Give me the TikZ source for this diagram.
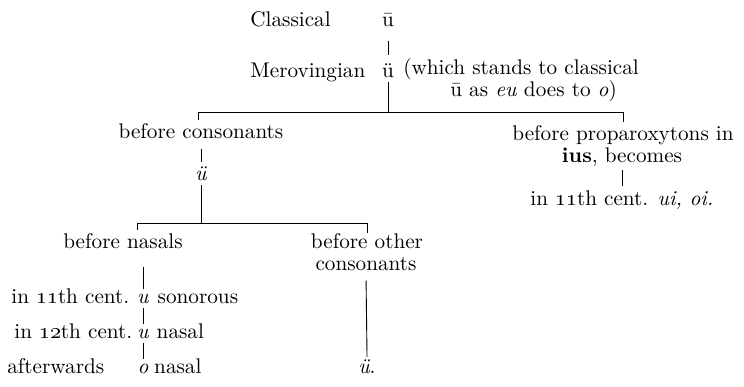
\documentclass[tikz,border=0pt]{standalone}
\usetikzlibrary{positioning,calc}
\tikzset{
  txt/.style={inner xsep=0pt, inner ysep=2pt, font=\fontsize{10.6}{12.7}\selectfont},
  link/.style={draw=black, line width=0.45pt},
}
\begin{document}
\begin{tikzpicture}[x=0.5pt,y=-0.5pt]
  \useasboundingbox (0,0) rectangle (744,386);
  % top: classical and merovingian
  \node[txt, anchor=base west] (cls) at (250,26) {Classical};
  \node[txt, anchor=base] (ubar) at (388,26) {\=u};
  \node[txt, anchor=base west] (mer) at (250,77) {Merovingian};
  \node[txt, anchor=base] (uum) at (388,77) {\"u};
  \node[txt, inner ysep=0pt, anchor=base west] (notea) at (403,74) {(which stands to classical};
  \node[txt, inner ysep=0pt, anchor=base west] (noteb) at (450,96) {\=u as \textit{eu} does to \textit{o})};
  \draw[link, shorten <=5pt, shorten >=2pt] (ubar.south) -- (uum.north);
  % first bracket
  \coordinate (j1) at (388,112);
  \coordinate (j1l) at (198,112);
  \coordinate (j1r) at (623,112);
  \coordinate (t1l) at (198,120);
  \coordinate (t1r) at (623,122);
  \draw[link] (uum.south) -- (j1);
  \draw[link] (t1l) -- (j1l) -- (j1r) -- (t1r);
  % left branch
  \node[txt, anchor=base] (cons) at (201,138) {before consonants};
  \node[txt, anchor=base] (iu1) at (201,180) {\textit{\"u}};
  \draw[link, shorten <=3pt] (cons.south) -- (iu1.north);
  % right branch
  \node[txt, anchor=base] (proa) at (623,140) {before proparoxytons in};
  \node[txt, anchor=base] (prob) at (622,162) {\textbf{ius}, becomes};
  \node[txt, anchor=base] (cent) at (622,205) {in \oldstylenums{11}th cent. \textit{ui, oi.}};
  \draw[link] (prob.south) -- (cent.north);
  % second bracket
  \coordinate (j2) at (201,223);
  \coordinate (j2l) at (137,223);
  \coordinate (j2r) at (367,223);
  \coordinate (t2l) at (137,230);
  \coordinate (t2r) at (367,233);
  \draw[link] (iu1.south) -- (j2);
  \draw[link] (t2l) -- (j2l) -- (j2r) -- (t2r);
  \node[txt, anchor=base] (nas) at (123,248) {before nasals};
  \node[txt, anchor=base] (otha) at (367,248) {before other};
  \node[txt, anchor=base] (othb) at (366,270) {consonants};
  % before nasals
  \node[txt, anchor=base] (ua) at (143,303) {\textit{u}};
  \node[txt, anchor=base east] (cena) at ([xshift=-3.5pt]ua.base west) {in \oldstylenums{11}th cent.};
  \node[txt, anchor=base west] (sono) at ([xshift=4pt]ua.base east) {sonorous};
  \node[txt, anchor=base] (ub) at (143,338) {\textit{u}};
  \node[txt, anchor=base east] (cenb) at ([xshift=-2pt]ub.base west) {in \oldstylenums{12}th cent.};
  \node[txt, anchor=base west] (nasa) at ([xshift=3.5pt]ub.base east) {nasal};
  \node[txt, anchor=base] (oc) at (143,373) {\textit{o}};
  \node[txt, anchor=base west] (aftw) at (7,373) {afterwards};
  \node[txt, anchor=base west] (nasb) at ([xshift=2.5pt]oc.base east) {nasal};
  \draw[link, shorten <=7pt] (nas.south -| ua.north) -- (ua.north);
  \draw[link] (ua.south) -- (ub.north);
  \draw[link] (ub.south) -- (oc.north);
  % before other consonants
  \node[txt, anchor=base] (iu2) at (367,373) {\textit{\"u}.};
  \draw[link, shorten <=3pt, shorten >=-1pt] (othb.south) -- (iu2.north);
\end{tikzpicture}
\end{document}
